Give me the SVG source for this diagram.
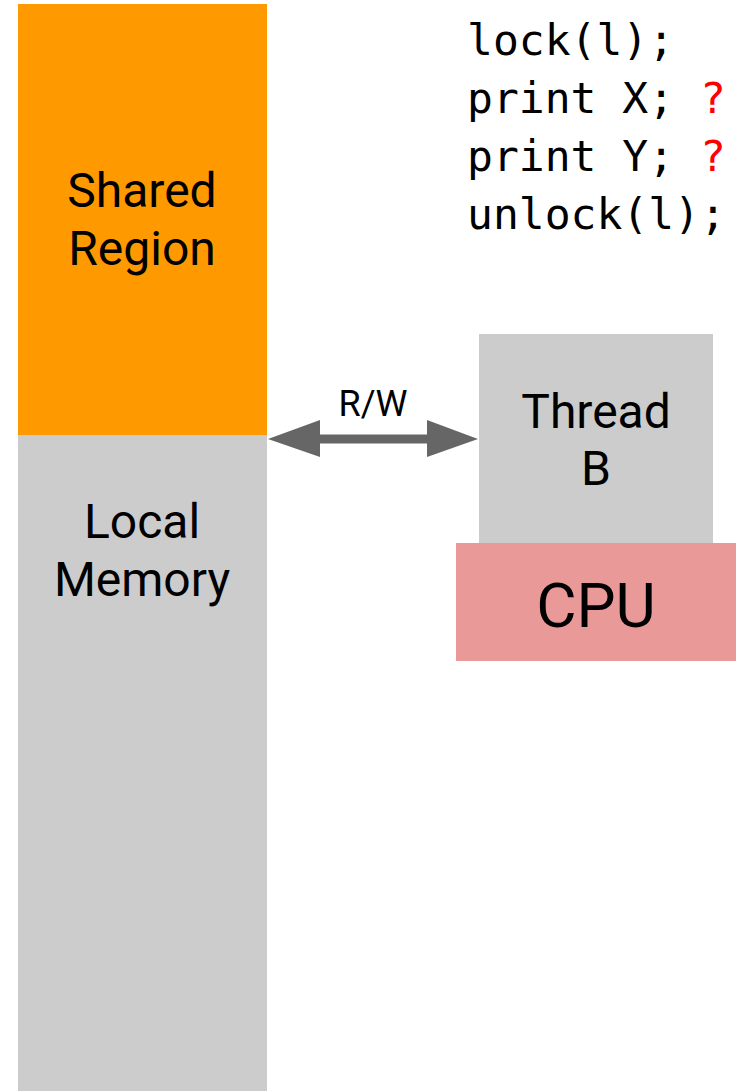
<svg xmlns="http://www.w3.org/2000/svg" width="736" height="1091" viewBox="0 0 736 1091">
<style>
.lbl{font-family:Roboto,"Liberation Sans",sans-serif;font-size:48px;fill:#000;text-anchor:middle}
.code{font-family:"DejaVu Sans Mono","Liberation Mono",monospace;font-size:43px;fill:#000}
.q{fill:#ff0000}
</style>
<rect width="736" height="1091" fill="#fff"/>
<g id="shared-region">
<rect x="18" y="4" width="249" height="431" fill="#ff9900"/>
<text class="lbl" x="142" y="207">Shared</text>
<text class="lbl" x="142" y="265">Region</text>
</g>
<g id="local-memory">
<rect x="18" y="435" width="249" height="656" fill="#cccccc"/>
<text class="lbl" x="142" y="538">Local</text>
<text class="lbl" x="142" y="596">Memory</text>
</g>
<g id="thread-b">
<rect x="479" y="334" width="234" height="209" fill="#cccccc"/>
<text class="lbl" x="596" y="428">Thread</text>
<text class="lbl" x="596" y="485">B</text>
</g>
<g id="cpu">
<rect x="456" y="543" width="280" height="118" fill="#ea9999"/>
<text class="lbl" x="596" y="627" style="font-size:62px">CPU</text>
</g>
<g id="code">
<text class="code" x="467" y="55">lock(l);</text>
<text class="code" x="467" y="113">print X; <tspan class="q">?</tspan></text>
<text class="code" x="467" y="171">print Y; <tspan class="q">?</tspan></text>
<text class="code" x="467" y="229">unlock(l);</text>
</g>
<g id="connectors">
<rect x="318" y="434.5" width="111" height="9" fill="#666666"/>
<polygon points="268,439 320,420 320,457" fill="#666666"/>
<polygon points="478,439 427,420 427,457" fill="#666666"/>
<text x="373" y="416" style="font-family:Roboto,'Liberation Sans',sans-serif;font-size:36px;text-anchor:middle;fill:#000">R/W</text>
</g>
</svg>
